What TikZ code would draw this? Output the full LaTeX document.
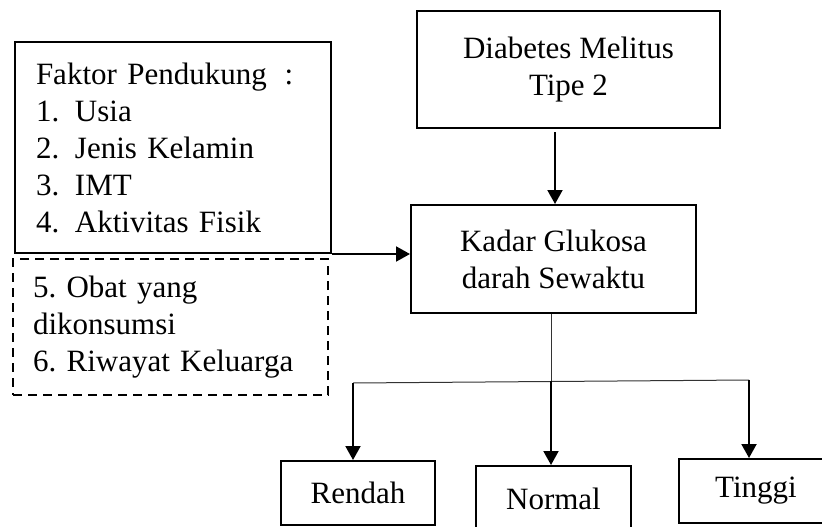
\documentclass[tikz,border=0pt]{standalone}
\usepackage{fontspec}
\setmainfont{Liberation Serif}
\usetikzlibrary{arrows.meta}
\frenchspacing

\tikzset{
  box/.style={draw, line width=2pt, inner sep=0pt, align=center},
  listbox/.style={box, align=left, inner xsep=20pt, text width=#1},
  arr/.style={line width=2pt, -{Triangle[length=14pt,width=15pt]}},
  branch/.style={line width=1pt, draw=black!80}
}
\newcommand{\itemno}[1]{\makebox[39pt][l]{#1}}

\begin{document}
\begin{tikzpicture}[x=1pt, y=-1pt,
  every node/.style={font=\fontsize{31pt}{37pt}\selectfont}]
  \useasboundingbox (0,0) rectangle (822,527);
  \clip (0,0) rectangle (822,527);
  \node[listbox=274pt, inner xsep=21pt, minimum height=211pt] (faktor) at (173,147.5)
    {Faktor Pendukung\hspace{18pt}:\\
     \itemno{1.}Usia\\
     \itemno{2.}Jenis Kelamin\\
     \itemno{3.}IMT\\
     \itemno{4.}Aktivitas Fisik};
  \node[listbox=275pt, dash pattern=on 9pt off 6pt, minimum height=136pt] (lain) at (170.5,327)
    {5. Obat yang\\
     dikonsumsi\\
     6. Riwayat Keluarga};
  \node[box, minimum width=303pt, minimum height=117pt] (dm) at (568.5,69.5)
    {Diabetes Melitus\\Tipe 2};
  \node[box, minimum width=285pt, minimum height=108pt] (kgds) at (553.5,259)
    {Kadar Glukosa\\darah Sewaktu};
  \node[box, minimum width=154pt, minimum height=64pt] (rendah) at (358,493) {Rendah};
  \node[box, minimum width=155pt, minimum height=66pt] (normal) at (553.5,499) {Normal};
  \node[box, minimum width=154pt, minimum height=64pt] (tinggi) at (756,491) {Tinggi};

  \coordinate (dmout) at ([xshift=-13.5pt,yshift=-3pt]dm.south);
  \draw[arr] (dmout) -- (dmout |- kgds.north);
  \draw[arr] (faktor.south east) -- (faktor.south east -| kgds.west);

  \coordinate (split) at (551,381);
  \coordinate (lo) at (353,383);
  \coordinate (hi) at (749,380);
  \draw[branch] (split |- kgds.south) -- (split);
  \draw[branch] (lo) -- (hi);
  \draw[arr] (lo) -- (lo |- rendah.north);
  \draw[arr] (split) -- (split |- normal.north);
  \draw[arr] (hi) -- (hi |- tinggi.north);
\end{tikzpicture}
\end{document}
